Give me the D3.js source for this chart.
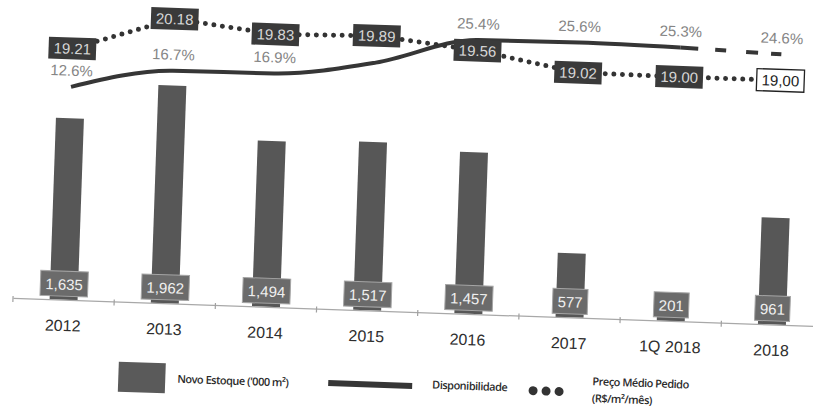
<!DOCTYPE html>
<html>
<head>
<meta charset="utf-8">
<script src="https://cdn.jsdelivr.net/npm/d3@7"></script>
<style>
  html, body { margin: 0; padding: 0; background: #fff; }
  svg { display: block; }
</style>
</head>
<body>
<script>
// ---- data ----
const categories = ["2012", "2013", "2014", "2015", "2016", "2017", "1Q 2018", "2018"];
const stock = [1635, 1962, 1494, 1517, 1457, 577, 201, 961];
const availability = [12.6, 16.7, 16.9, 19.9, 25.4, 25.6, 25.3, 24.6];
const availabilityLabels = ["12.6%", "16.7%", "16.9%", null, "25.4%", "25.6%", "25.3%", "24.6%"];
const price = [19.21, 20.18, 19.83, 19.89, 19.56, 19.02, 19.00, 19.00];
const priceLabels = ["19.21", "20.18", "19.83", "19.89", "19.56", "19.02", "19.00", "19,00"];
const legendItems = ["Novo Estoque ('000 m²)", "Disponibilidade", "Preço Médio Pedido", "(R$/m²/mês)"];

// ---- setup ----
const W = 813, H = 406;
const svg = d3.select("body").append("svg").attr("width", W).attr("height", H);
svg.append("rect").attr("width", W).attr("height", H).attr("fill", "#fff");
const g = svg.append("g").attr("transform", "rotate(2,15,298)");

const x = d3.scaleBand().domain(categories).range([13, 823]);
const cx = d => x(d) + x.bandwidth() / 2;
const y = d3.scaleLinear().domain([0, 2000]).range([298, 76]);
const yA = d3.scaleLinear().domain([10, 30]).range([97.4, 2.0]);
const yP = d3.scaleLinear().domain([19, 20.2]).range([53.8, 12.7]);
const fmt = d3.format(",");
const numFont = "'Liberation Sans', Arial, sans-serif";

// ---- bars ----
const barW = 28;
g.selectAll("rect.bar").data(categories).join("rect")
  .attr("class", "bar")
  .attr("x", d => cx(d) - barW / 2)
  .attr("width", barW)
  .attr("y", (d, i) => y(stock[i]))
  .attr("height", (d, i) => y(0) - y(stock[i]))
  .attr("fill", "#575757");

// ---- axis ----
const axis = g.append("g").attr("transform", "translate(0,298)")
  .call(d3.axisBottom(x).tickSizeInner(0).tickSizeOuter(0).tickPadding(20));
axis.select(".domain").attr("stroke", "#a8a8a8").attr("stroke-width", 1.2);
axis.selectAll("text").attr("font-family", numFont).attr("font-size", 16).attr("fill", "#2e2e2e");
const edges = categories.map(d => x(d));
g.selectAll("line.tk").data(edges).join("line")
  .attr("class", "tk")
  .attr("x1", d => d).attr("x2", d => d)
  .attr("y1", 296).attr("y2", 302)
  .attr("stroke", "#a0a0a0").attr("stroke-width", 1.2);

// ---- bar value boxes ----
const bl = g.selectAll("g.bl").data(categories).join("g").attr("class", "bl");
bl.each(function (d, i) {
  const s = d3.select(this);
  const r = s.append("rect");
  const t = s.append("text")
    .attr("x", cx(d)).attr("y", 288)
    .attr("text-anchor", "middle")
    .attr("font-family", numFont).attr("font-size", 15)
    .attr("fill", "#f0f0f0")
    .text(fmt(stock[i]));
  const w = t.node().getComputedTextLength() + 10;
  r.attr("x", cx(d) - w / 2).attr("y", 269.5).attr("width", w).attr("height", 25)
    .attr("fill", "#6b6b6b").attr("stroke", "#a5a5a5").attr("stroke-width", 1);
});

// ---- availability line ----
const aPts = categories.map((d, i) => [cx(d), yA(availability[i])]);
const lineGen = d3.line().curve(d3.curveMonotoneX);
g.append("path").attr("d", lineGen(aPts.slice(0, 7)))
  .attr("fill", "none").attr("stroke", "#363636").attr("stroke-width", 4);
g.append("path").attr("d", d3.line()(aPts.slice(6, 8)))
  .attr("fill", "none").attr("stroke", "#363636").attr("stroke-width", 4)
  .attr("stroke-dasharray", "18,17,11,20,12,13,14,40");

// ---- price dotted line ----
const pPts = categories.map((d, i) => [cx(d), yP(price[i])]);
g.append("path").attr("d", d3.line()(pPts))
  .attr("fill", "none").attr("stroke", "#333").attr("stroke-width", 5)
  .attr("stroke-linecap", "round").attr("stroke-dasharray", "0,8.6");

// ---- price boxes ----
const pl = g.selectAll("g.pl").data(categories).join("g").attr("class", "pl");
pl.each(function (d, i) {
  const s = d3.select(this);
  const last = i === categories.length - 1;
  const r = s.append("rect");
  const t = s.append("text")
    .attr("x", cx(d)).attr("y", yP(price[i]) + 5.5)
    .attr("text-anchor", "middle")
    .attr("font-family", numFont).attr("font-size", 15)
    .attr("fill", last ? "#222" : "#d6d6d6")
    .text(priceLabels[i]);
  const w = t.node().getComputedTextLength() + 10;
  r.attr("x", cx(d) - w / 2).attr("y", yP(price[i]) - 11).attr("width", w).attr("height", 22)
    .attr("fill", last ? "#fff" : "#3a3a3a")
    .attr("stroke", last ? "#222" : "none").attr("stroke-width", 1.3);
});

// ---- availability labels ----
g.selectAll("text.al").data(categories.filter((d, i) => availabilityLabels[i])).join("text")
  .attr("class", "al")
  .attr("x", d => cx(d))
  .attr("y", d => yA(availability[categories.indexOf(d)]) - 11)
  .attr("text-anchor", "middle")
  .attr("font-family", numFont).attr("font-size", 15)
  .attr("fill", "#858585")
  .text(d => availabilityLabels[categories.indexOf(d)]);

// ---- legend ----
const lg = g.append("g");
const legFont = "'Open Sans', 'Noto Sans', sans-serif";
lg.append("rect").attr("x", 121).attr("y", 358).attr("width", 47).attr("height", 30).attr("fill", "#5a5a5a");
lg.append("text").attr("x", 180).attr("y", 377).text(legendItems[0]);
lg.append("line").attr("x1", 331).attr("x2", 415).attr("y1", 372).attr("y2", 372)
  .attr("stroke", "#363636").attr("stroke-width", 6);
lg.append("text").attr("x", 435).attr("y", 374).text(legendItems[1]);
lg.selectAll("circle").data([536, 549, 562]).join("circle")
  .attr("cx", d => d).attr("cy", 372.5).attr("r", 4.5).attr("fill", "#333");
lg.append("text").attr("x", 595).attr("y", 365).text(legendItems[2]);
lg.append("text").attr("x", 595).attr("y", 382).text(legendItems[3]);
lg.selectAll("text").attr("font-family", legFont).attr("font-size", 11)
  .attr("font-weight", 600).attr("fill", "#2a2a2a").attr("letter-spacing", -0.5);
</script>
</body>
</html>
